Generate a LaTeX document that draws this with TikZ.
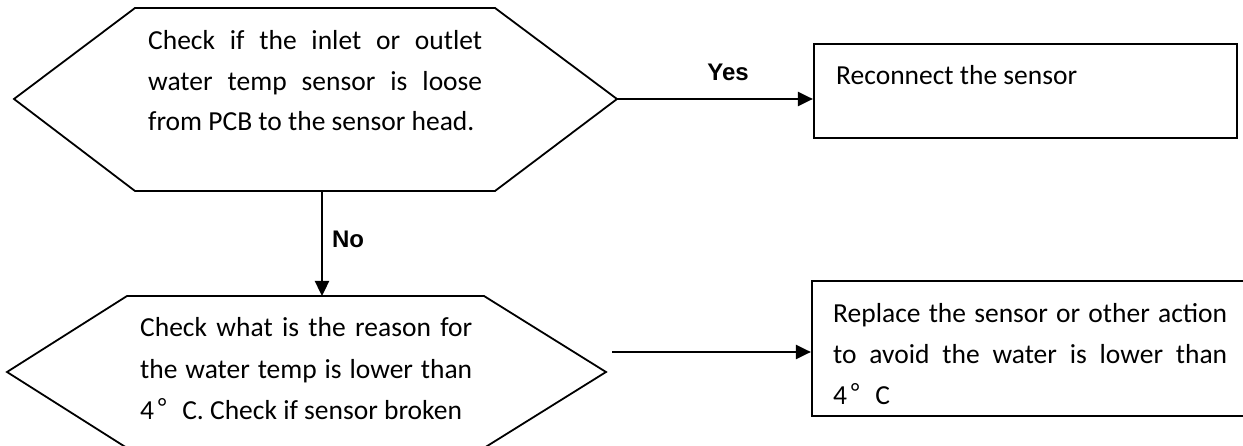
\documentclass[tikz,border=0pt]{standalone}
\usepackage{fontspec}
\setmainfont{Carlito}
\newfontfamily\labfont{Liberation Sans}
\newfontfamily\cjkdeg{Noto Sans CJK SC}
\usetikzlibrary{arrows.meta}
\newcommand{\degsym}{\hspace{3pt}{\cjkdeg °}\hspace{15pt}}
\begin{document}
\begin{tikzpicture}[x=1pt,y=-1pt,
  shp/.style={draw=black,line width=1.8pt,line join=miter},
  boxstyle/.style={draw=black,line width=2.2pt,rectangle,inner sep=0pt},
  conn/.style={line width=2.4pt,-{Triangle[length=15pt,width=14pt]}},
  txt/.style={inner sep=0pt,anchor=base west,font=\fontsize{27.5}{40.5}\selectfont},
  lbl/.style={font=\labfont\bfseries\fontsize{24}{28}\selectfont,inner sep=0pt}]
\useasboundingbox (0,0) rectangle (1243,446);
\begin{scope}
\clip (0,0) rectangle (1243,446);
% upper decision
\coordinate (h1l) at (14,99);
\coordinate (h1r) at (617,99);
\coordinate (h1b) at (322,191);
\draw[shp] (135,8) -- (495,8) -- (h1r) -- (495,191) -- (135,191) -- (h1l) -- cycle;
\node[txt] (t1) at (148,50) {\parbox[t]{334pt}{\fontsize{27.5}{40.5}\selectfont
  \makebox[334pt][s]{Check if the inlet or outlet}\\
  \makebox[334pt][s]{water temp sensor is loose}\\
  from PCB to the sensor head.}};
% lower decision
\coordinate (h2l) at (7,372);
\coordinate (h2r) at (606,372);
\coordinate (h2t) at (322,296);
\draw[shp] (127,296) -- (484,296) -- (h2r) -- (484,448) -- (127,448) -- (h2l) -- cycle;
\node[txt] (t2) at (140,337) {\parbox[t]{332pt}{\fontsize{27.5}{41.5}\selectfont
  \makebox[332pt][s]{Check what is the reason for}\\
  \makebox[332pt][s]{the water temp is lower than}\\
  4\degsym C. Check if sensor broken}};
% action boxes
\node[boxstyle,minimum width=423pt,minimum height=94pt] (b1) at (1025.5,91) {};
\node[txt] (t3) at (836,85) {Reconnect the sensor};
\node[boxstyle,minimum width=440pt,minimum height=135pt] (b2) at (1032,348.5) {};
\node[txt] (t4) at (833,323) {\parbox[t]{394pt}{\fontsize{27.5}{41}\selectfont
  \makebox[394pt][s]{Replace the sensor or other action}\\
  \makebox[394pt][s]{to avoid the water is lower than}\\
  4\degsym C}};
% connectors
\draw[conn] (h1r) -- (b1.west |- h1r);
\node[lbl] (yes) at (728,72) {Yes};
\draw[conn] (h1b) -- (h2t);
\node[lbl] (no) at (348,239) {No};
\coordinate (a2s) at (612,352);
\draw[conn] (a2s) -- (b2.west |- a2s);
\end{scope}
\end{tikzpicture}
\end{document}
